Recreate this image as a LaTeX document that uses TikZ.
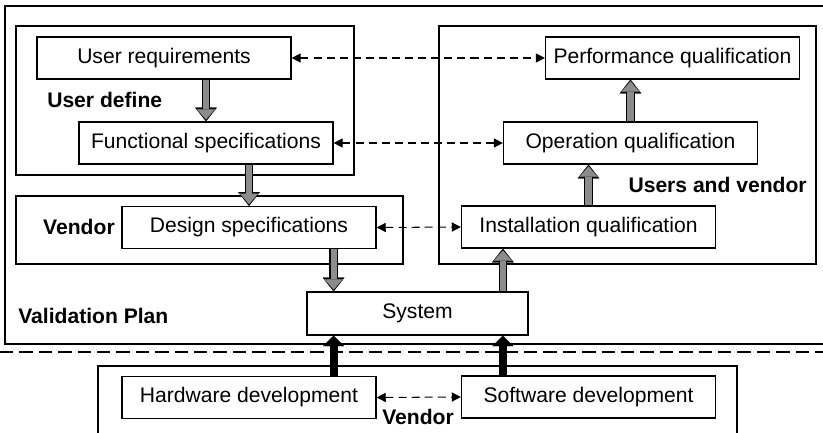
\documentclass[tikz,border=0pt]{standalone}
\usepackage{fontspec}
\setmainfont{Liberation Sans}
\usetikzlibrary{positioning,calc,arrows.meta}

\begin{document}
\begin{tikzpicture}[
  x=0.025cm, y=-0.025cm,
  font=\fontsize{15}{18}\selectfont,
  stage/.style={draw, line width=0.8pt, fill=white, minimum width=6.35cm, minimum height=1.05cm,
    inner sep=0pt, text height=0.72em, text depth=0pt},
  group/.style={draw, line width=0.8pt},
  tag/.style={font=\fontsize{15}{18}\selectfont\bfseries, inner sep=0pt, text height=0.72em, text depth=0pt},
  flow/.style={draw=black!45, line width=4.4pt, shorten >=1.3pt,
    -{Triangle[length=7.4pt, width=12.8pt, line width=0.1pt, fill=black!45]},
    preaction={draw=black, line width=6pt, shorten >=0pt,
      -{Triangle[length=9.8pt, width=15.4pt, line width=0.1pt]}}},
  build/.style={line width=5.7pt, -{Triangle[length=7.5pt, width=15pt, line width=0.1pt]}},
  link/.style={line width=0.75pt, dash pattern=on 5.7pt off 3.6pt,
    {Triangle[length=6.5pt, width=6.5pt]}-{Triangle[length=6.5pt, width=6.5pt]}},
  sepline/.style={line width=2pt, dash pattern=on 9.5pt off 4.3pt}
]

\useasboundingbox (0,0) rectangle (823,433);

% Validation plan frame (open at the right)
\draw[group] (823,6) -- (5,6) -- (5,344) -- (823,344);

% Inner groups
\draw[group] (16,26) rectangle (354,175);
\draw[group] (439,26) rectangle (816,264);
\draw[group] (16,196) rectangle (403,264);
\draw[group] (98,440) -- (98,366) -- (737,366) -- (737,440);

% Separator between plan and development
\coordinate (sepL) at (0,352);
\coordinate (sepR) at (823,352);
\draw[sepline] (sepL) -- (sepR);

% Specification side
\node[stage] (ureq)  at (164,58)    {User requirements};
\node[stage] (fspec) at (206,143)   {Functional specifications};
\node[stage] (dspec) at (249,227.5) {Design specifications};

% Qualification side
\node[stage] (pq) at (672.5,58)  {Performance qualification};
\node[stage] (oq) at (630.5,143) {Operation qualification};
\node[stage] (iq) at (588.5,227) {Installation qualification};

% System and development
\node[stage, minimum width=5.525cm, minimum height=1.075cm] (sys) at (417.5,313.5) {System};
\node[stage] (hw) at (249,397.5) {Hardware development};
\node[stage] (sw) at (588.5,397) {Software development};

% Group labels
\node[tag, anchor=west] (udef)  at (47,102)  {User define};
\node[tag, anchor=east] (uvend) at (807,187) {Users and vendor};
\node[tag, anchor=east] (vend)  at (115,229) {Vendor};
\node[tag, anchor=west] (vplan) at (18,318)  {Validation Plan};
\node[tag] (dvend) at (418,419) {Vendor};

% Down the specifications
\draw[flow] (ureq.south -| fspec) -- (fspec.north);
\draw[flow] (fspec.south -| dspec) -- (dspec.north);
\draw[flow] (dspec.south -| fspec.east) -- (sys.north -| fspec.east);

% Up the qualifications
\draw[flow] (sys.north -| oq.west) -- (iq.south -| oq.west);
\draw[flow] (iq.north) -- (oq.south -| iq);
\draw[flow] (oq.north) -- (pq.south -| oq);

% Development into system
\draw[build] (hw.north -| fspec.east) -- (sys.south -| fspec.east);
\draw[build] (sw.north -| oq.west) -- (sys.south -| oq.west);

% Verification links
\draw[link] (ureq.east) -- (pq.west);
\draw[link] (fspec.east) -- (oq.west);
\draw[link] (dspec.east) -- (iq.west);
\draw[link] (hw.east) -- (sw.west);

\end{tikzpicture}
\end{document}
